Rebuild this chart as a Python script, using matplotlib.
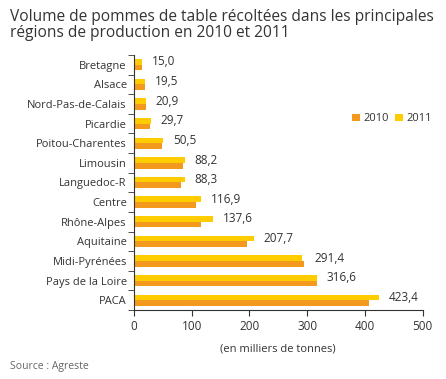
import numpy as np
import matplotlib
matplotlib.use("Agg")
import matplotlib.pyplot as plt

plt.rcParams['font.family'] = ['Open Sans', 'DejaVu Sans']

regions = ["Bretagne", "Alsace", "Nord-Pas-de-Calais", "Picardie", "Poitou-Charentes",
           "Limousin", "Languedoc-R", "Centre", "Rhône-Alpes", "Aquitaine",
           "Midi-Pyrénées", "Pays de la Loire", "PACA"]
v2010 = [14, 18.7, 20.5, 27.5, 49, 85, 82, 108, 116, 196, 295, 317, 407]
v2011 = [15.0, 19.5, 20.9, 29.7, 50.5, 88.2, 88.3, 116.9, 137.6, 207.7, 291.4, 316.6, 423.4]

orange = "#F39A1E"
yellow = "#FFCC00"
txt = "#333333"

fig = plt.figure(figsize=(4.46, 3.79), dpi=100)
ax = fig.add_axes([0.300, 0.182, 0.648, 0.673])

y = np.arange(len(regions))
h = 0.29
ax.barh(y + h / 2, v2010, height=h, color=orange, label="2010")
ax.barh(y - h / 2, v2011, height=h, color=yellow, label="2011")

for yi, a, b in zip(y, v2010, v2011):
    ax.annotate(f"{b:.1f}".replace(".", ","), xy=(max(a, b), yi - h / 2),
                xytext=(7, 0), textcoords="offset points",
                ha="left", va="center", fontsize=8.5, color=txt)

ax.set_ylim(len(regions) - 0.5, -0.5)
ax.set_xlim(0, 500)
ax.set_xticks([0, 100, 200, 300, 400, 500])
ax.set_yticks(y)
ax.set_yticklabels(regions)
ax.set_yticks(np.arange(-0.5, len(regions), 1), minor=True)
ax.tick_params(axis="y", which="major", length=0, pad=5, labelsize=8, labelcolor=txt)
ax.tick_params(axis="y", which="minor", length=4, color="#333333")
ax.tick_params(axis="x", length=4, labelsize=8.5, labelcolor=txt, color="#333333")
for s in ["top", "right"]:
    ax.spines[s].set_visible(False)
ax.spines["left"].set_color("#333333")
ax.spines["bottom"].set_color("#333333")

ax.set_xlabel("(en milliers de tonnes)", fontsize=8, color=txt, labelpad=7)

ax.legend(loc="upper left", bbox_to_anchor=(0.72, 0.81), ncol=2, frameon=False,
          fontsize=8, handlelength=0.7, handleheight=0.7, handletextpad=0.3,
          columnspacing=0.6, labelcolor=txt)

fig.text(0.022, 0.975, "Volume de pommes de table récoltées dans les principales\n"
         "régions de production en 2010 et 2011", ha="left", va="top",
         fontsize=11.2, color=txt, linespacing=0.95)
fig.text(0.022, 0.033, "Source : Agreste", ha="left", va="center",
         fontsize=7.5, color="#666666")

fig.savefig("out.png", dpi=100)
